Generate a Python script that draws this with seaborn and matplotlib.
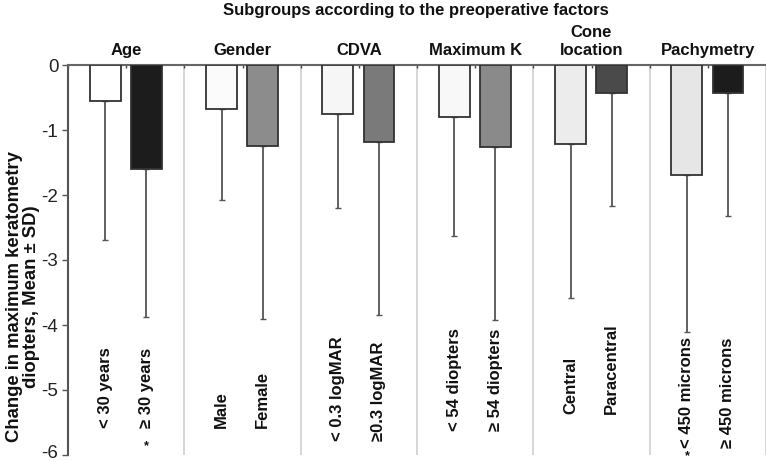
import matplotlib
matplotlib.use("Agg")
import matplotlib.pyplot as plt
import matplotlib.transforms as mtransforms
import seaborn as sns
import pandas as pd
import numpy as np

# ---- data ----
groups = ["Age", "Gender", "CDVA", "Maximum K", "Cone\nlocation", "Pachymetry"]
labels = ["< 30 years", "≥ 30 years", "Male", "Female", "< 0.3 logMAR", "≥0.3 logMAR",
          "< 54 diopters", "≥ 54 diopters", "Central", "Paracentral",
          "< 450 microns", "≥ 450 microns"]
means = [-0.56, -1.60, -0.67, -1.25, -0.76, -1.18, -0.80, -1.26, -1.21, -0.43, -1.69, -0.43]
sds = [2.13, 2.28, 1.41, 2.66, 1.44, 2.66, 1.83, 2.66, 2.37, 1.74, 2.41, 1.89]
significant = [False, True, False, False, False, False, False, False, False, False, True, False]
yticks = [0, -1, -2, -3, -4, -5, -6]

# ---- styling ----
colors = ["#ffffff", "#1c1c1c", "#fbfbfb", "#8c8c8c", "#f6f6f6", "#7a7a7a",
          "#f8f8f8", "#8a8a8a", "#ececec", "#4a4a4a", "#e6e6e6", "#1c1c1c"]
label_bottom = [5.59, 5.59, 5.79, 5.63, 5.37, 5.90]  # per group, depth of label start
star_pos = [-5.95, -6.108]

sns.set_theme(style="white")
plt.rcParams['font.family'] = ['Liberation Sans', 'DejaVu Sans']

fig = plt.figure(figsize=(7.66, 4.62), dpi=100)
ax = fig.add_axes([68 / 766, 1 - 455 / 462, 1 - 68 / 766, (455 - 65) / 462])

offsets = [0.32, 0.673]
positions = [g + offsets[i] for g in range(len(groups)) for i in range(2)]
df = pd.DataFrame({"pos": positions, "mean": means, "label": labels})

sns.barplot(data=df, x="pos", y="mean", hue="label", palette=colors,
            native_scale=True, width=0.75, dodge=False, legend=False,
            edgecolor="#333333", linewidth=1.3, errorbar=None, ax=ax, zorder=3)

ax.errorbar(positions, means, yerr=[sds, np.zeros(len(sds))], fmt="none",
            ecolor="#555555", elinewidth=1.3, capsize=2, capthick=1.0, zorder=2)

for k in range(1, len(groups) + 1):
    ax.axvline(k, color="#d0d0d0", lw=1.2, zorder=0)

ax.set_xlim(0, len(groups))
ax.set_ylim(-6, 0)
ax.set_yticks(yticks)
ax.set_yticklabels([str(t) for t in yticks], fontsize=13.5, color="#222222")
ax.tick_params(axis="y", direction="out", length=4, width=1, color="#555555", pad=3, left=True)
last = ax.get_yticklabels()[-1]
last.set_transform(last.get_transform() + mtransforms.ScaledTranslation(0, 3 / 100, fig.dpi_scale_trans))

ax.xaxis.tick_top()
tick_x = sorted(set([g + 0.5 for g in range(len(groups))] + list(range(len(groups)))))
ax.set_xticks(tick_x)
ax.set_xticklabels([""] * len(tick_x))
ax.tick_params(axis="x", direction="in", length=2.5, width=1, color="#444444", top=True)
ax.set_xlabel("")
ax.set_ylabel("")

for s in ["bottom", "right"]:
    ax.spines[s].set_visible(False)
ax.spines["left"].set_color("#555555")
ax.spines["left"].set_linewidth(1.5)
ax.spines["top"].set_color("#666666")
ax.spines["top"].set_linewidth(1.5)

# category labels
si = 0
for i, (p, lab) in enumerate(zip(positions, labels)):
    g = i // 2
    ax.text(p, -label_bottom[g], lab, rotation=90, rotation_mode="anchor",
            ha="left", va="center", fontsize=12, fontweight="bold", color="#111111",
            clip_on=False, zorder=5)
    if significant[i]:
        ax.text(p, star_pos[si], "*", ha="center", va="bottom",
                fontsize=9, fontweight="bold", color="#111111", clip_on=False)
        si += 1

# group titles
for g, name in enumerate(groups):
    ax.text(g + 0.5, 0.15, name, ha="center", va="baseline", fontsize=12,
            fontweight="bold", color="#111111", clip_on=False, linespacing=1.25)

fig.text((222 + 609) / 2 / 766, 1 - 10 / 462, "Subgroups according to the preoperative factors",
         ha="center", va="center", fontsize=12, fontweight="bold", color="#111111")

fig.text(23 / 766, 1 - 297 / 462, "Change in maximum keratometry\ndiopters, Mean ± SD)",
         rotation=90, ha="center", va="center", fontsize=13.3, fontweight="bold",
         color="#111111", multialignment="center", linespacing=1.05)

fig.savefig("out.png", dpi=100)
